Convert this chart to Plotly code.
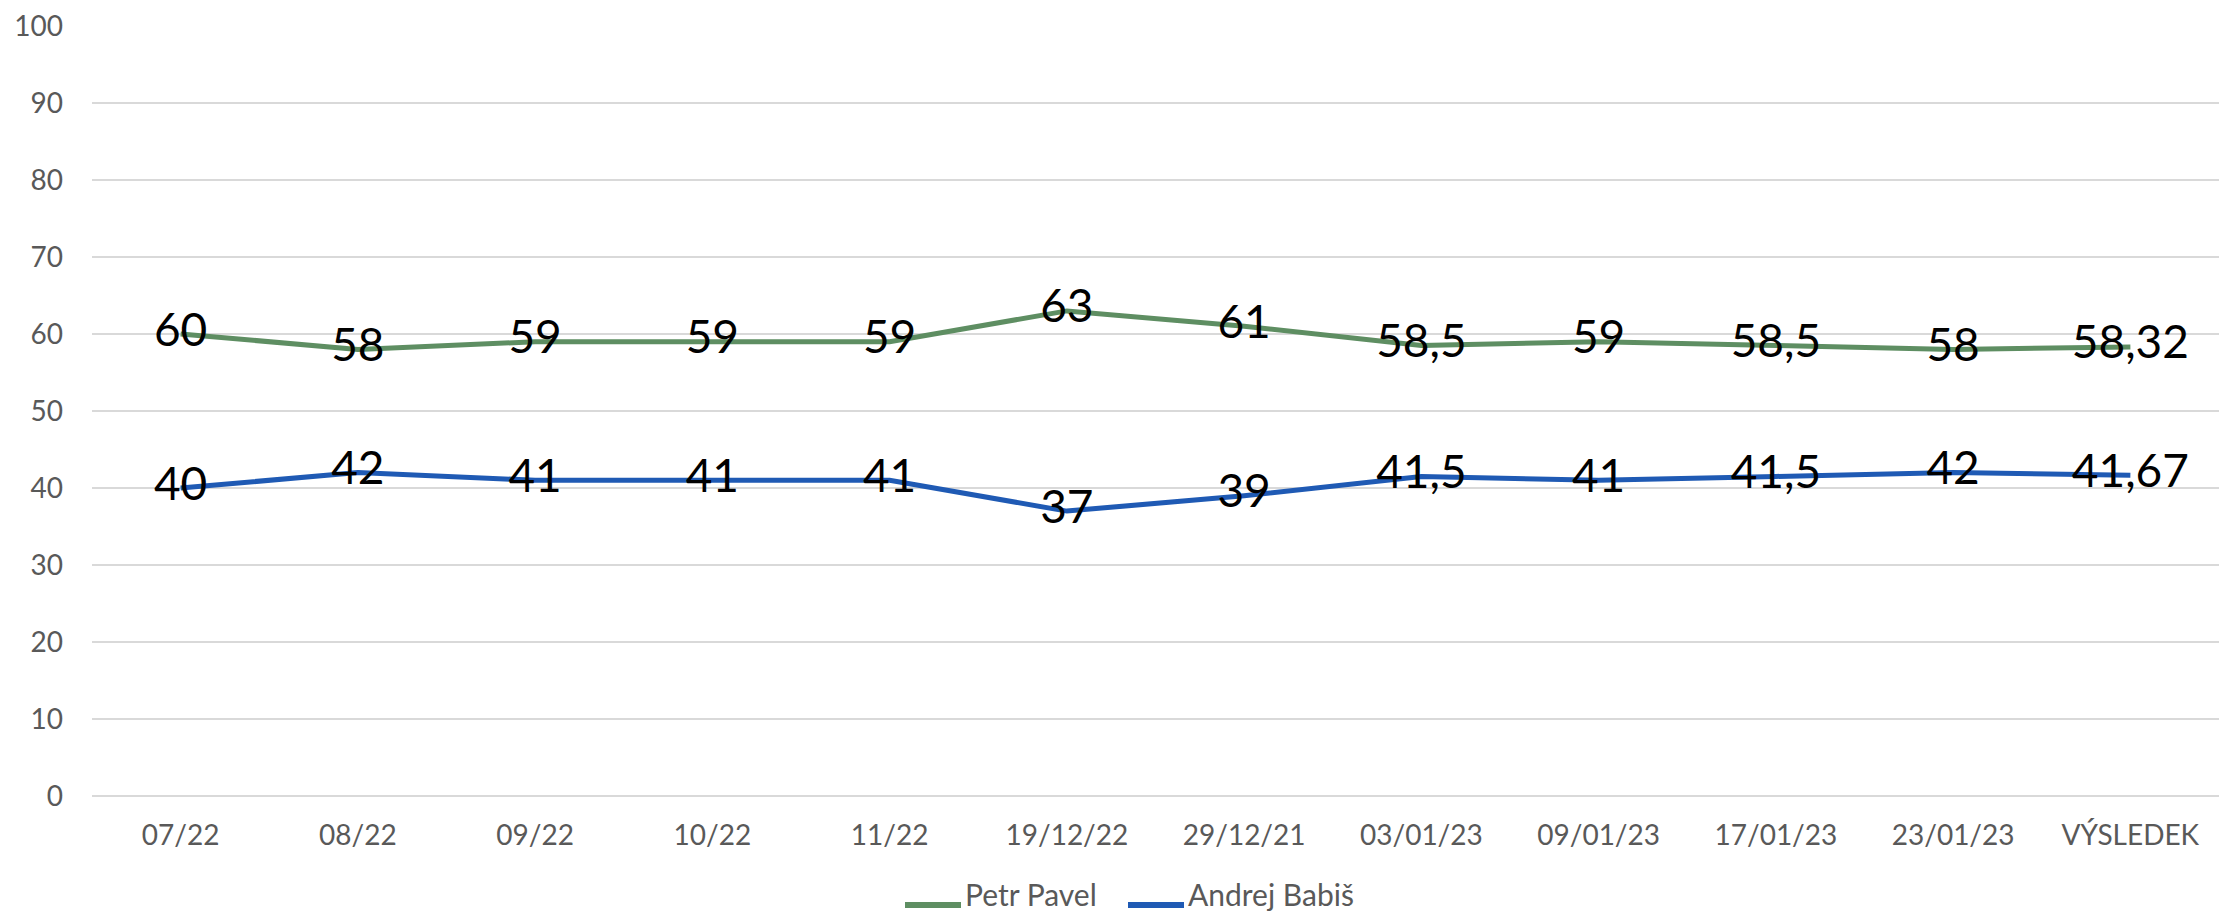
import plotly.graph_objects as go

categories = ["07/22", "08/22", "09/22", "10/22", "11/22", "19/12/22", "29/12/21",
              "03/01/23", "09/01/23", "17/01/23", "23/01/23", "VÝSLEDEK"]
pavel = [60, 58, 59, 59, 59, 63, 61, 58.5, 59, 58.5, 58, 58.32]
babis = [40, 42, 41, 41, 41, 37, 39, 41.5, 41, 41.5, 42, 41.67]
y_ticks = [0, 10, 20, 30, 40, 50, 60, 70, 80, 90, 100]
series_names = ["Petr Pavel", "Andrej Babiš"]
series_colors = ["#5E8E62", "#1F5AB4"]

FONT = "Lato, Noto Sans, sans-serif"
W, H = 2221, 913
ML, MR, MT, MB = 92, 2, 26, 117
PW, PH = W - ML - MR, H - MT - MB

def fmt(v):
    return ("%g" % v).replace(".", ",")

fig = go.Figure()
for name, vals, color in zip(series_names, [pavel, babis], series_colors):
    fig.add_trace(go.Scatter(
        x=categories, y=vals, name=name, mode="lines+text",
        line=dict(color=color, width=5),
        text=[fmt(v) for v in vals], textposition="middle center",
        textfont=dict(family=FONT, size=46, color="#000000"),
        hoverinfo="skip", showlegend=False,
    ))

# manual legend (longer, thicker line keys like the reference)
def px_x(p):
    return (p - ML) / PW

def px_y(p):
    return (H - MB - p) / PH

legend_line_y = px_y(905)
legend_text_y = px_y(894)
legend_starts = [905, 1128]
for name, color, x0 in zip(series_names, series_colors, legend_starts):
    fig.add_shape(type="line", xref="paper", yref="paper",
                  x0=px_x(x0), x1=px_x(x0 + 56), y0=legend_line_y, y1=legend_line_y,
                  line=dict(color=color, width=6))
    fig.add_annotation(xref="paper", yref="paper", x=px_x(x0 + 59), y=legend_text_y,
                       text=name, showarrow=False, xanchor="left", yanchor="middle",
                       borderpad=0,
                       font=dict(family=FONT, size=30, color="#595959"))

fig.update_layout(
    width=W, height=H,
    paper_bgcolor="white", plot_bgcolor="white",
    margin=dict(l=ML, r=MR, t=MT, b=MB, autoexpand=False),
    font=dict(family=FONT, size=28, color="#595959"),
    showlegend=False,
    xaxis=dict(type="category", showgrid=False, zeroline=False, showline=False,
               ticks="", ticklabelstandoff=20, tickfont=dict(size=28, color="#595959"),
               range=[-0.5, len(categories) - 0.5], automargin=False),
    yaxis=dict(range=[0, 100], tickvals=y_ticks, showgrid=True, gridcolor="#D9D9D9",
               gridwidth=2, zeroline=True, zerolinecolor="#D9D9D9", zerolinewidth=2,
               showline=False, ticks="", ticklabelstandoff=28, automargin=False,
               tickfont=dict(size=28, color="#595959")),
)

fig.write_html("out.html", config={"displayModeBar": False},
               post_script="document.body.style.margin='0';")
